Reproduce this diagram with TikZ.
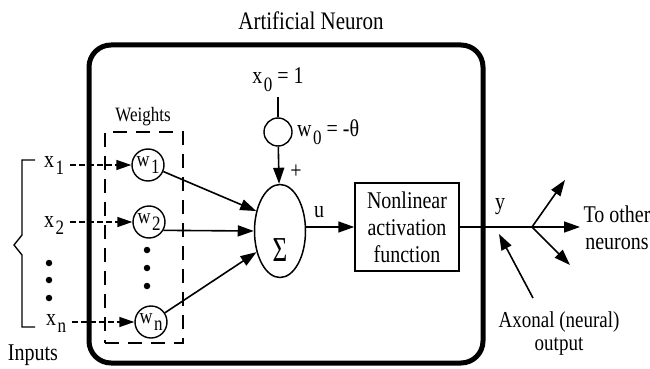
\documentclass[tikz,border=0pt]{standalone}
\usepackage{fontspec}
\usepackage{graphicx}
\setmainfont{Liberation Serif}
\usetikzlibrary{arrows.meta,shapes.geometric}
\newcommand\lsub[1]{\kern1.5pt\raisebox{-0.7ex}{\fontsize{17}{17}\selectfont #1}}
\newcommand\vs[1]{\scalebox{1}[1.2]{#1}}
\begin{document}
\begin{tikzpicture}[x=1pt,y=-1pt,
  lbl/.style={font=\fontsize{20}{27}\selectfont, inner sep=0pt},
  xlbl/.style={lbl, anchor=base, outer xsep=6pt},
  wcirc/.style={draw, line width=1.4pt, circle, minimum size=32pt, inner sep=0pt, font=\fontsize{18}{18}\selectfont},
  arr/.style={line width=1.6pt, -{Triangle[length=16pt,width=11pt]}},
  darr/.style={line width=1.4pt, dash pattern=on 6pt off 3pt, -{Triangle[length=15pt,width=10pt]}},
  dotn/.style={circle, fill, inner sep=0pt, minimum size=6.5pt}]
\useasboundingbox (0,0) rectangle (650,369);
% title and outer box
\node[lbl, font=\fontsize{21}{21}\selectfont] (title) at (311,21) {\vs{Artificial Neuron}};
\node[draw, line width=5pt, rounded corners=22pt, minimum width=394pt, minimum height=318pt] (neuron) at (286,204) {};
% weights box
\node[draw, line width=1.6pt, dash pattern=on 14pt off 9pt, minimum width=78pt, minimum height=211pt] (wbox) at (144,237.5) {};
\node[lbl, font=\fontsize{17}{17}\selectfont] (wlabel) at (143,117) {\vs{Weights}};
\node[wcirc] (w1) at (148,165) {\vs{w\lsub{1}}};
\node[wcirc] (w2) at (149,222) {\vs{w\lsub{2}}};
\node[wcirc] (wn) at (151,322) {\vs{w\lsub{n}}};
\node[dotn] (wd1) at (147,250) {};
\node[dotn] (wd2) at (147,268) {};
\node[dotn] (wd3) at (147,286) {};
% inputs
\node[xlbl] (x1) at (54,167) {\vs{x\lsub{1}}};
\node[xlbl] (x2) at (54,227) {\vs{x\lsub{2}}};
\node[xlbl] (xn) at (56,325) {\vs{x\lsub{n}}};
\node[dotn] (xd1) at (49,263) {};
\node[dotn] (xd2) at (49,280) {};
\node[dotn] (xd3) at (49,298) {};
\draw[darr] (x1.east |- w1) -- (w1);
\draw[darr] (x2.east |- w2) -- (w2);
\draw[darr] (xn.east |- wn) -- (wn);
\draw[line width=1.4pt] (35,160) -- (22,160) -- (22,235) -- (14,245) -- (22,255) -- (22,327) -- (35,327);
\node[lbl] (inputs) at (33,355) {\vs{Inputs}};
% summation
\node[draw, ellipse, line width=1.5pt, minimum width=51pt, minimum height=93pt, inner sep=0pt] (sum) at (280,231) {};
\node[inner sep=0pt, font=\fontsize{28}{28}\selectfont] (sig) at (280,250) {\scalebox{0.9}[1.25]{Σ}};
\node[lbl] (x0) at (278,80) {\vs{x\lsub{0} = 1}};
\node[draw, circle, line width=1.4pt, minimum size=28pt, inner sep=0pt] (w0) at (278,132) {};
\node[lbl, anchor=west] (w0l) at (297,132) {\vs{w\lsub{0} = -θ}};
\draw[line width=1.6pt, shorten <=5pt] (x0.south) -- (w0);
\draw[arr] (w0) -- (sum);
\node[lbl] (plus) at (296,172) {\vs{+}};
\draw[arr] (w1) -- (sum.140);
\draw[arr] (w2.-30) -- (sum.west);
\draw[arr] (wn) -- (sum.222);
% activation
\node[draw, line width=1.5pt, minimum width=104pt, minimum height=88pt, align=center, lbl] (act) at (407,227) {\vs{Nonlinear}\\\vs{activation}\\\vs{function}};
\draw[arr] (sum.east |- act) -- (act);
\node[lbl] (u) at (319,212) {\vs{u}};
% output
\coordinate (br) at (532,227);
\coordinate (t1) at (565,180);
\coordinate (t2) at (580,227);
\coordinate (t3) at (570,265);
\draw[line width=1.6pt] (act) -- (br);
\draw[arr] (br) -- (t1);
\draw[arr] (br) -- (t2);
\draw[arr] (br) -- (t3);
\node[lbl] (y) at (500,207) {\vs{y}};
\node[lbl, align=center] (other) at (617,228) {\vs{To other}\\\vs{neurons}};
\node[lbl, align=center, font=\fontsize{19}{23}\selectfont] (axon) at (559,334) {\vs{Axonal (neural)}\\\vs{output}};
\coordinate (axs) at (533,298);
\coordinate (axt) at (499,234);
\draw[arr] (axs) -- (axt);
\end{tikzpicture}
\end{document}
